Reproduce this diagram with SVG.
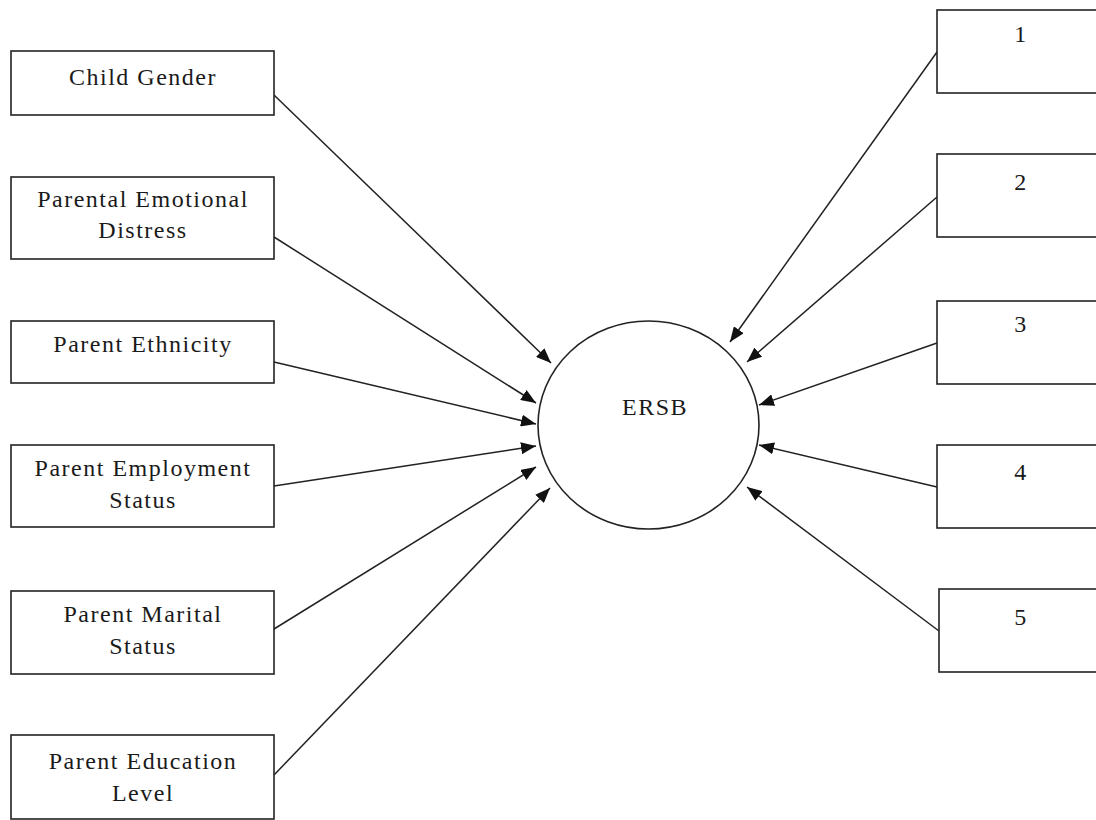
<svg xmlns="http://www.w3.org/2000/svg" width="1096" height="820" viewBox="0 0 1096 820">
<style>
.box{fill:#fff;stroke:#222;stroke-width:1.6}
.lbl{font-family:"Liberation Serif","Times New Roman",serif;font-size:24px;fill:#1a1a1a;text-anchor:middle;letter-spacing:1.5px}
.edge{stroke:#222;stroke-width:1.5;fill:none;marker-end:url(#ah)}
</style>
<defs>
<marker id="ah" markerUnits="userSpaceOnUse" markerWidth="16" markerHeight="12" refX="15" refY="6" orient="auto">
<path d="M0,0 L15,6 L0,12 Z" fill="#111"/>
</marker>
</defs>
<rect width="1096" height="820" fill="#fff"/>
<g id="connectors">
<line class="edge" x1="274" y1="95" x2="551" y2="363"/>
<line class="edge" x1="274" y1="237" x2="536" y2="403"/>
<line class="edge" x1="274" y1="362" x2="536" y2="424"/>
<line class="edge" x1="274" y1="486" x2="536" y2="446"/>
<line class="edge" x1="274" y1="629" x2="536" y2="467"/>
<line class="edge" x1="274" y1="775" x2="550" y2="488"/>
<line class="edge" x1="937" y1="52" x2="730" y2="342"/>
<line class="edge" x1="937" y1="197" x2="747" y2="362"/>
<line class="edge" x1="937" y1="343" x2="759" y2="405"/>
<line class="edge" x1="937" y1="487" x2="759" y2="445"/>
<line class="edge" x1="939" y1="631" x2="747" y2="487"/>
</g>
<g id="ersb">
<ellipse class="box" cx="648.5" cy="425" rx="110.5" ry="104"/>
<text class="lbl" x="655" y="415">ERSB</text>
</g>
<g id="child-gender">
<rect class="box" x="11" y="51" width="263" height="64"/>
<text class="lbl" x="143" y="85">Child Gender</text>
</g>
<g id="parental-emotional-distress">
<rect class="box" x="11" y="177" width="263" height="82"/>
<text class="lbl" x="143" y="207">Parental Emotional</text>
<text class="lbl" x="143" y="238">Distress</text>
</g>
<g id="parent-ethnicity">
<rect class="box" x="11" y="321" width="263" height="62"/>
<text class="lbl" x="143" y="352">Parent Ethnicity</text>
</g>
<g id="parent-employment-status">
<rect class="box" x="11" y="445" width="263" height="82"/>
<text class="lbl" x="143" y="476">Parent Employment</text>
<text class="lbl" x="143" y="508">Status</text>
</g>
<g id="parent-marital-status">
<rect class="box" x="11" y="591" width="263" height="83"/>
<text class="lbl" x="143" y="622">Parent Marital</text>
<text class="lbl" x="143" y="654">Status</text>
</g>
<g id="parent-education-level">
<rect class="box" x="11" y="735" width="263" height="84"/>
<text class="lbl" x="143" y="769">Parent Education</text>
<text class="lbl" x="143" y="801">Level</text>
</g>
<g id="n1">
<rect class="box" x="937" y="10" width="170" height="83"/>
<text class="lbl" x="1021" y="42">1</text>
</g>
<g id="n2">
<rect class="box" x="937" y="154" width="170" height="83"/>
<text class="lbl" x="1021" y="190">2</text>
</g>
<g id="n3">
<rect class="box" x="937" y="301" width="170" height="83"/>
<text class="lbl" x="1021" y="332">3</text>
</g>
<g id="n4">
<rect class="box" x="937" y="445" width="170" height="83"/>
<text class="lbl" x="1021" y="480">4</text>
</g>
<g id="n5">
<rect class="box" x="939" y="589" width="170" height="83"/>
<text class="lbl" x="1021" y="625">5</text>
</g>
</svg>
